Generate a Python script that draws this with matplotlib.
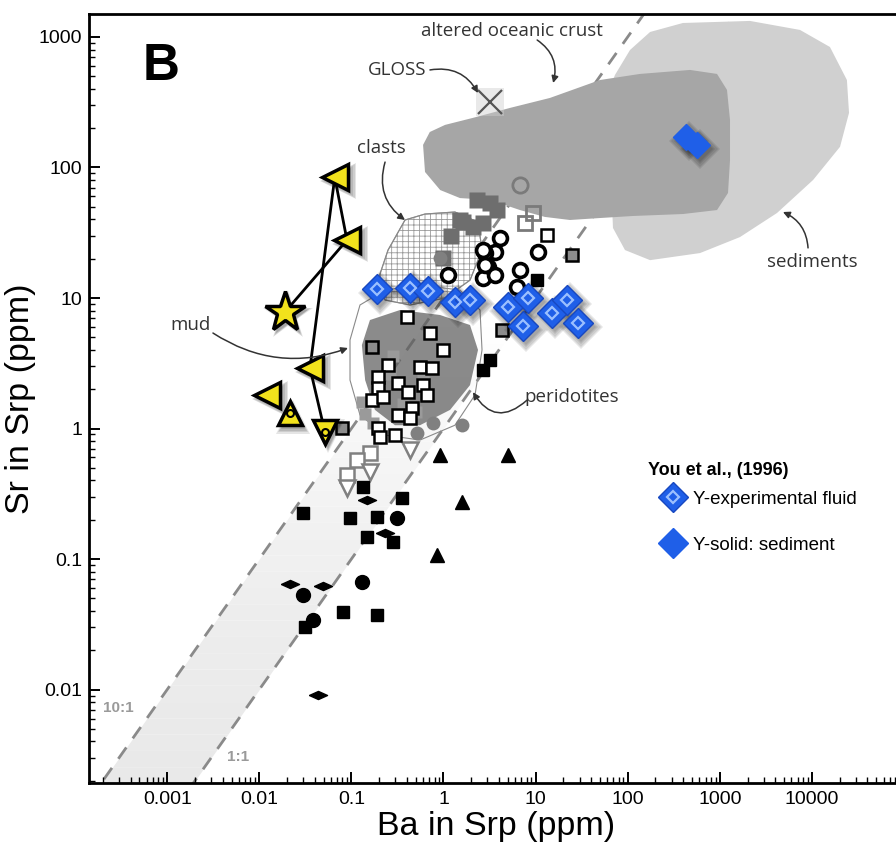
import numpy as np
import matplotlib
matplotlib.use('Agg')
import matplotlib.pyplot as plt
from matplotlib.lines import Line2D
from matplotlib.patches import Polygon
from matplotlib.legend_handler import HandlerTuple
import matplotlib.transforms as mtransforms
from matplotlib.ticker import LogLocator, NullFormatter

plt.rcParams['font.family'] = ['Liberation Sans', 'DejaVu Sans']
plt.rcParams['hatch.linewidth'] = 0.6

# ---------------- data ----------------
x_ticks = [0.001, 0.01, 0.1, 1, 10, 100, 1000, 10000]
x_tick_labels = ['0.001', '0.01', '0.1', '1', '10', '100', '1000', '10000']
y_ticks = [0.01, 0.1, 1, 10, 100, 1000]
y_tick_labels = ['0.01', '0.1', '1', '10', '100', '1000']
ratio_values = [10, 1]
ratio_labels = ['10:1', '1:1']

# fields (Ba, Sr in ppm)
sed_ba = [56.7, 72.8, 106, 175, 398, 2128, 7430, 15700, 24000, 25300, 20200, 10300,
          4180, 1656, 610, 175, 93.5, 69.2, 67.6, 61.1, 56.7]
sed_sr = [329, 512, 795, 1092, 1280, 1327, 1132, 838, 468, 262, 144, 80.2,
          44.8, 29.3, 22.1, 19.5, 23.3, 34.4, 51.6, 80.2, 136]
aoc_ba = [0.60, 0.71, 1.04, 2.09, 5.27, 14.3, 50, 136, 475, 933, 1197, 1291, 1291, 1228,
          933, 398, 114, 50, 23.6, 12.6, 6.77, 3.2, 1.51, 0.92, 0.63]
aoc_sr = [149, 187, 212, 240, 286, 341, 468, 521, 559, 521, 393, 231, 114, 63.8,
          47.2, 44, 42.5, 41, 39.6, 41.8, 47.2, 56.4, 58.3, 67.2, 92.4]
clast_ba = [0.382, 0.63, 1.33, 2.37, 2.62, 1.94, 1.04, 0.433, 0.232, 0.194, 0.25]
clast_sr = [39.6, 44, 45.6, 38.2, 23.3, 13.7, 10, 8.84, 9.65, 13.7, 23.3]
mud_ba = [0.124, 0.232, 0.556, 1.51, 2.49, 2.62, 2.2, 1.33, 0.556, 0.232, 0.124, 0.0966, 0.0966]
mud_sr = [8.84, 11.5, 12.6, 11.5, 8.09, 4.0, 1.81, 1.06, 0.816, 0.891, 1.27, 2.35, 4.77]
perid_ba = [0.159, 0.337, 0.916, 1.94, 2.37, 1.94, 1.18, 0.556, 0.297, 0.18, 0.141, 0.13]
perid_sr = [6.78, 8.09, 7.41, 6.21, 4.0, 2.15, 1.39, 1.06, 1.06, 1.39, 2.35, 4.36]

gloss_ba, gloss_sr = [3.2], [318]

# You et al. (1996)
legend_title = 'You et al., (1996)'
legend_labels = ['Y-experimental fluid', 'Y-solid: sediment']
fluid_ba = [0.190, 0.433, 0.679, 1.33, 1.94, 5.01, 8.27, 7.30, 15.1, 21.9, 28.9]
fluid_sr = [11.7, 11.9, 11.3, 9.31, 9.65, 8.53, 10.0, 6.10, 7.67, 9.65, 6.43]
solid_ba = [430, 560]
solid_sr = [172, 148]

# yellow series
ytri_ba = [0.066, 0.0895, 0.0355, 0.0121]
ytri_sr = [84, 27.8, 2.91, 1.81]
ystar_ba, ystar_sr = [0.019], [7.8]
yup_ba, yup_sr = [0.0215], [1.31]
ydown_ba, ydown_sr = [0.0516], [0.94]
yline1_ba = [0.0895, 0.066, 0.0355, 0.0516]
yline1_sr = [27.8, 84, 2.91, 0.94]
yline2_ba = [0.0895, 0.019]
yline2_sr = [27.8, 7.8]

# black symbols
bsq_ba = [0.0298, 0.0966, 0.134, 0.190, 0.354, 0.148, 0.283, 0.081, 0.190, 0.0313, 3.20, 2.68, 10.4]
bsq_sr = [0.225, 0.206, 0.356, 0.210, 0.293, 0.148, 0.135, 0.0393, 0.0372, 0.0302, 3.35, 2.81, 13.7]
bci_ba = [0.313, 0.130, 0.0298, 0.0383]
bci_sr = [0.206, 0.0667, 0.0530, 0.0341]
bdi_ba = [0.148, 0.0215, 0.0492, 0.0434, 0.232]
bdi_sr = [0.283, 0.0643, 0.0621, 0.00908, 0.158]
btr_ba = [0.916, 5.01, 1.59, 0.850]
btr_sr = [0.626, 0.626, 0.273, 0.107]

# grey open symbols (lower)
gsq_ba = [0.159, 0.115, 0.0895]
gsq_sr = [0.649, 0.574, 0.440]
gtr_ba = [0.159, 0.0895, 0.433]
gtr_sr = [0.464, 0.350, 0.684]

# white squares, black edge
wsq_ba = [0.713, 0.402, 0.99, 0.556, 0.750, 0.250, 0.194, 0.321, 0.194, 0.599, 0.168,
          0.220, 0.412, 0.662, 0.455, 0.321, 0.433, 0.194, 0.297, 0.205, 13.3]
wsq_sr = [5.39, 7.15, 4.0, 2.96, 2.91, 3.07, 2.48, 2.23, 2.04, 2.15, 1.65,
          1.74, 1.90, 1.81, 1.44, 1.27, 1.20, 1.01, 0.891, 0.861, 30.4]
# grey squares, black edge
gfsq_ba = [0.168, 0.079, 24.8, 4.32]
gfsq_sr = [4.21, 1.01, 21.4, 5.69]
# white circles, thick black edge
wci_ba = [4.11, 3.62, 2.82, 10.6, 3.04, 6.77, 2.68, 3.62, 6.28, 2.68, 2.82, 1.12]
wci_sr = [28.8, 22.5, 22.1, 22.5, 17.3, 16.4, 14.2, 15.0, 12.1, 23.3, 17.9, 15.0]
# dark grey squares
dsq_ba = [2.31, 3.20, 3.81, 1.51, 2.09, 2.68, 0.99, 1.63, 1.2]
dsq_sr = [56.4, 53.5, 47.2, 39.6, 35, 37.6, 20.3, 38, 30]
# grey open circle / squares (upper)
goc_ba, goc_sr = [6.77], [73.5]
gos_ba = [9.37, 7.67]
gos_sr = [44.8, 37.6]
# medium grey circles
mci_ba = [0.769, 1.59, 0.515, 0.916]
mci_sr = [1.10, 1.06, 0.924, 20.3]
# light grey squares in mud field
lsq_ba = [0.14, 0.17, 0.13, 0.26, 0.36, 0.5, 0.6, 0.28]
lsq_sr = [1.3, 1.1, 1.6, 2.6, 1.55, 1.35, 2.5, 3.6]

# ---------------- figure ----------------
fig = plt.figure(figsize=(8.96, 8.5), dpi=100)
ax = fig.add_axes([89/896, 67/850, 815/896, 769/850])
ax.set_xscale('log')
ax.set_yscale('log')
xmin, xmax = 10**-3.849, 1e5
ymin, ymax = 10**-2.716, 10**3.176
ax.set_xlim(xmin, xmax)
ax.set_ylim(ymin, ymax)

# band between 10:1 and 1:1 (fading upward)
edges = np.logspace(np.log10(ymin), np.log10(8), 30)
for i in range(len(edges) - 1):
    yy = np.array([edges[i], edges[i + 1]])
    t = i / (len(edges) - 2)
    g = 0.915 + 0.085 * t ** 1.6
    ax.fill_betweenx(yy, yy / ratio_values[0], yy / ratio_values[1], color=(g, g, g), lw=0, zorder=0)

bb = np.logspace(-4, 4, 50)
for r in ratio_values:
    ax.plot(bb, r * bb, color='#8a8a8a', lw=2, ls=(0, (5, 4)), zorder=0.5)

ax.add_patch(Polygon(np.column_stack([sed_ba, sed_sr]), closed=True, fc='#d0d0d0', ec='none', zorder=1))
ax.add_patch(Polygon(np.column_stack([aoc_ba, aoc_sr]), closed=True, fc='#a6a6a6', ec='none', zorder=1.2))
ax.add_patch(Polygon(np.column_stack([clast_ba, clast_sr]), closed=True, fc='white', ec='#9a9a9a',
                     hatch='+++', lw=0.8, zorder=1.5))
ax.add_patch(Polygon(np.column_stack([clast_ba, clast_sr]), closed=True, fc='none', ec='#888888',
                     lw=0.8, zorder=1.6))
ax.add_patch(Polygon(np.column_stack([perid_ba, perid_sr]), closed=True, fc='#5e5e5e', ec='none',
                     alpha=0.72, zorder=1.7))
ax.add_patch(Polygon(np.column_stack([mud_ba, mud_sr]), closed=True, fc='none', ec='#8a8a8a',
                     lw=0.8, zorder=1.8))

# GLOSS
ax.plot(gloss_ba, gloss_sr, ls='none', marker='s', ms=20, color='#d0d0d0', alpha=0.45, mew=0, zorder=2)
ax.plot(gloss_ba, gloss_sr, ls='none', marker='x', ms=17, color='#555555', mew=1.6, zorder=2.1)

def shadow(x, y, marker, ms, z, dx=3, dy=-4, n=4):
    tr = mtransforms.offset_copy(ax.transData, fig=fig, x=dx, y=dy, units='dots')
    for i in range(n):
        ax.plot(x, y, ls='none', marker=marker, ms=ms + 2.5 * i, color='k', alpha=0.10, mew=0,
                transform=tr, zorder=z)

flat_diamond = [(-1, 0), (0, 0.45), (1, 0), (0, -0.45), (-1, 0)]

# grey symbols
ax.plot(dsq_ba, dsq_sr, ls='none', marker='s', ms=11, mfc='#6e6e6e', mec='none', zorder=2.5)
ax.plot(lsq_ba, lsq_sr, ls='none', marker='s', ms=9, mfc='#9a9a9a', mec='none', zorder=2.5)
ax.plot(mci_ba, mci_sr, ls='none', marker='o', ms=10, mfc='#808080', mec='none', zorder=2.5)
ax.plot(goc_ba, goc_sr, ls='none', marker='o', ms=11, mfc='none', mec='#7a7a7a', mew=2, zorder=2.6)
ax.plot(gos_ba, gos_sr, ls='none', marker='s', ms=10, mfc='none', mec='#7a7a7a', mew=2, zorder=2.6)
ax.plot(gsq_ba, gsq_sr, ls='none', marker='s', ms=10, mfc='white', mec='#808080', mew=1.8, zorder=2.6)
ax.plot(gtr_ba, gtr_sr, ls='none', marker='v', ms=11, mfc='white', mec='#808080', mew=1.8, zorder=2.6)

# black symbols
ax.plot(bsq_ba, bsq_sr, ls='none', marker='s', ms=9, color='black', zorder=3)
ax.plot(bci_ba, bci_sr, ls='none', marker='o', ms=10, color='black', zorder=3)
ax.plot(bdi_ba, bdi_sr, ls='none', marker=flat_diamond, ms=13, color='black', zorder=3)
ax.plot(btr_ba, btr_sr, ls='none', marker='^', ms=10, color='black', zorder=3)

ax.plot(wsq_ba, wsq_sr, ls='none', marker='s', ms=8.5, mfc='white', mec='black', mew=1.8, zorder=3.2)
ax.plot(gfsq_ba, gfsq_sr, ls='none', marker='s', ms=9, mfc='#8c8c8c', mec='black', mew=1.8, zorder=3.2)
ax.plot(wci_ba, wci_sr, ls='none', marker='o', ms=10, mfc='white', mec='black', mew=2.6, zorder=3.3)

# You et al. symbols
blue = '#1f5fe8'
shadow(fluid_ba, fluid_sr, 'D', 15, 3.9)
ax.plot(fluid_ba, fluid_sr, ls='none', marker='D', ms=15, mfc=blue, mec='#1848c0', mew=1, zorder=4)
ax.plot(fluid_ba, fluid_sr, ls='none', marker='D', ms=6.5, mfc='none', mec='#9cc0ff', mew=1.6, zorder=4.1)
shadow(solid_ba, solid_sr, 'D', 13, 3.9)
ax.plot(solid_ba, solid_sr, ls='none', marker='D', ms=13, mfc=blue, mec=blue, mew=1, zorder=4)

# yellow series
yel = '#f2e21c'
ax.plot(yline1_ba, yline1_sr, color='black', lw=2, zorder=4.5)
ax.plot(yline2_ba, yline2_sr, color='black', lw=2, zorder=4.5)
shadow(ytri_ba, ytri_sr, '<', 19, 4.4)
shadow(ystar_ba, ystar_sr, '*', 30, 4.4)
shadow(yup_ba, yup_sr, '^', 17, 4.4)
shadow(ydown_ba, ydown_sr, 'v', 17, 4.4)
ax.plot(ytri_ba, ytri_sr, ls='none', marker='<', ms=19, mfc=yel, mec='black', mew=2.5, zorder=5)
ax.plot(ystar_ba, ystar_sr, ls='none', marker='*', ms=30, mfc=yel, mec='black', mew=2.5, zorder=5)
ax.plot(yup_ba, yup_sr, ls='none', marker='^', ms=17, mfc=yel, mec='black', mew=2.5, zorder=5)
ax.plot(ydown_ba, ydown_sr, ls='none', marker='v', ms=17, mfc=yel, mec='black', mew=2.5, zorder=5)
ax.plot(yup_ba + ydown_ba, yup_sr + ydown_sr, ls='none', marker='o', ms=5, mfc=yel, mec='black', mew=1.5, zorder=5.1)

# annotations
afont = dict(family=['Open Sans', 'DejaVu Sans'], fontsize=13.5, color='#333333')
ap = dict(arrowstyle='-|>', color='#333333', lw=1.1, mutation_scale=10, shrinkA=0, shrinkB=0)
ax.text(5.55, 1112, 'altered oceanic crust', ha='center', va='center', **afont, zorder=6)
ax.annotate('', xy=(15.5, 444), xytext=(10.4, 948),
            arrowprops=dict(ap, connectionstyle='arc3,rad=-0.35'), zorder=6)
ax.text(0.313, 559, 'GLOSS', ha='center', va='center', **afont, zorder=6)
ax.annotate('', xy=(2.37, 372), xytext=(0.713, 559),
            arrowprops=dict(ap, connectionstyle='arc3,rad=-0.35'), zorder=6)
ax.text(0.21, 141, 'clasts', ha='center', va='center', **afont, zorder=6)
ax.annotate('', xy=(0.382, 39.6), xytext=(0.232, 110),
            arrowprops=dict(ap, connectionstyle='arc3,rad=0.35'), zorder=6)
ax.text(0.00177, 6.21, 'mud', ha='center', va='center', **afont, zorder=6)
ax.annotate('', xy=(0.0918, 4.14), xytext=(0.00314, 5.39),
            arrowprops=dict(ap, connectionstyle='arc3,rad=0.25'), zorder=6)
ax.text(24.8, 1.74, 'peridotites', ha='center', va='center', **afont, zorder=6)
ax.annotate('', xy=(2.09, 1.90), xytext=(8.07, 1.65),
            arrowprops=dict(ap, connectionstyle='arc3,rad=-0.6'), zorder=6)
ax.text(10000, 18.9, 'sediments', ha='center', va='center', **afont, zorder=6)
ax.annotate('', xy=(4850, 45.6), xytext=(9080, 24.2),
            arrowprops=dict(ap, connectionstyle='arc3,rad=0.3'), zorder=6)

ax.text(2.92e-4, 0.0072, ratio_labels[0], ha='center', va='center', fontsize=11, color='#9a9a9a',
        fontweight='bold', zorder=6)
ax.text(0.00587, 0.00304, ratio_labels[1], ha='center', va='center', fontsize=11, color='#9a9a9a',
        fontweight='bold', zorder=6)

ax.text(0.066, 0.914, 'B', transform=ax.transAxes, fontsize=37, fontweight='bold',
        ha='left', va='baseline', zorder=6)

# legend (title as separate text so spacing matches)
ax.text(0.686, 0.407, legend_title, transform=ax.transAxes, fontsize=13, fontweight='bold',
        ha='left', va='center', zorder=6)
h_fluid = (Line2D([], [], ls='none', marker='D', ms=15, mfc=blue, mec='#1848c0'),
           Line2D([], [], ls='none', marker='D', ms=6.5, mfc='none', mec='#9cc0ff', mew=1.6))
h_solid = Line2D([], [], ls='none', marker='D', ms=15, mfc=blue, mec=blue)
leg = ax.legend([h_fluid, h_solid], legend_labels,
                handler_map={tuple: HandlerTuple(ndivide=1)},
                loc='upper left', bbox_to_anchor=(0.684, 0.395),
                frameon=False, fontsize=13.5, labelspacing=1.55, handletextpad=0.3,
                handlelength=1.6, borderaxespad=0.2)

# axes styling
ax.set_xticks(x_ticks, labels=x_tick_labels)
ax.set_yticks(y_ticks, labels=y_tick_labels)
ax.xaxis.set_minor_locator(LogLocator(base=10, subs=np.arange(2, 10), numticks=50))
ax.yaxis.set_minor_locator(LogLocator(base=10, subs=np.arange(2, 10), numticks=50))
ax.xaxis.set_minor_formatter(NullFormatter())
ax.yaxis.set_minor_formatter(NullFormatter())
ax.tick_params(which='major', direction='in', length=8, width=1.4, labelsize=14, pad=6)
ax.tick_params(which='minor', direction='in', length=4, width=1.0)
ax.tick_params(axis='y', pad=5)
for s in ax.spines.values():
    s.set_linewidth(2)
ax.set_xlabel('Ba in Srp (ppm)', fontsize=24.5, labelpad=2)
ax.set_ylabel('Sr in Srp (ppm)', fontsize=24.5, labelpad=2)

fig.savefig('out.png', dpi=100)
